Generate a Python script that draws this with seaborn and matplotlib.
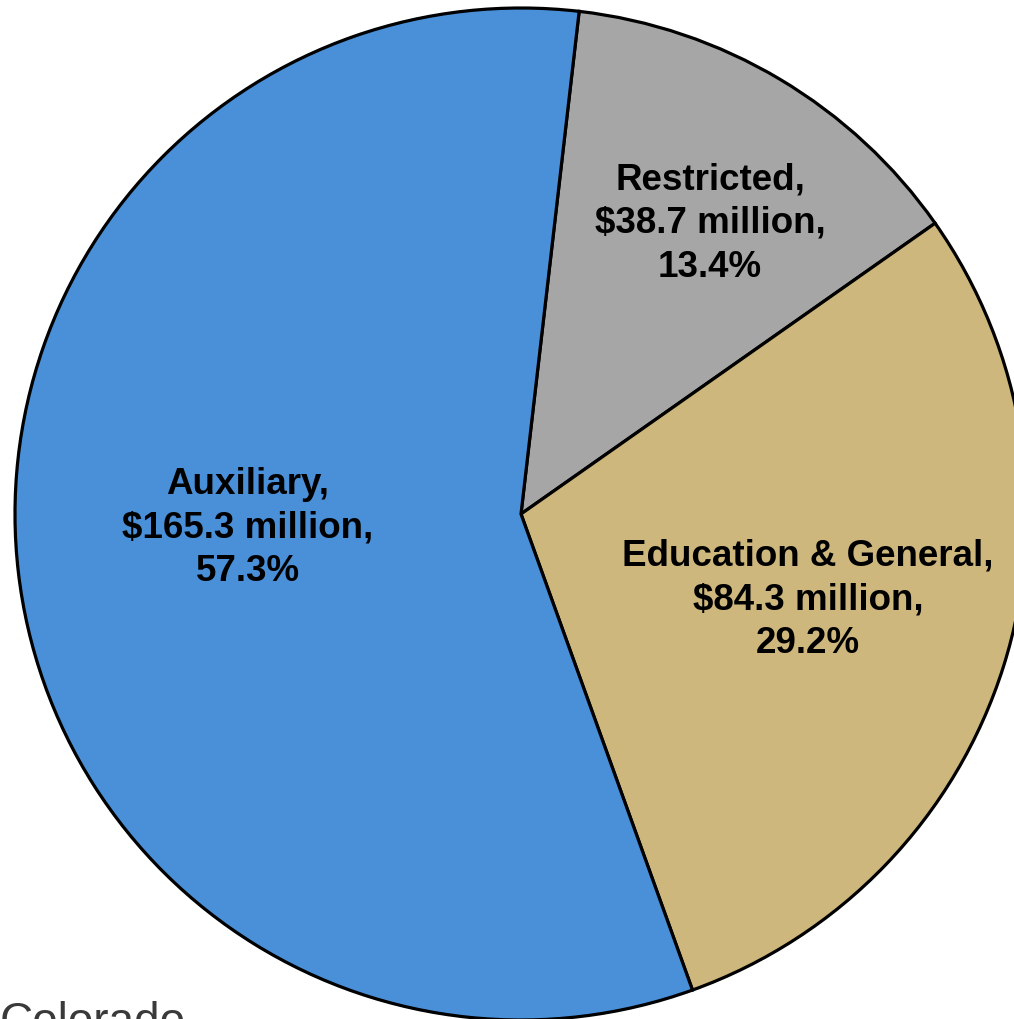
import matplotlib
matplotlib.use("Agg")
import matplotlib.pyplot as plt
import seaborn as sns
import numpy as np

categories = ["Restricted", "Education & General", "Auxiliary"]
amounts = [38.7, 84.3, 165.3]
percents = [13.4, 29.2, 57.3]
colors = ["#A6A6A6", "#CEB77C", "#4A90D9"]
label_dist = [0.69, 0.59, 0.54]
label_angle_shift = [-2.0, 1.5, -4.3]

sns.set_theme(style="white")
plt.rcParams['font.family'] = ['Liberation Sans', 'DejaVu Sans']

fig = plt.figure(figsize=(10.14, 10.19), dpi=100)
W, H = 1014, 1019
cx, cy, R = 521, 514, 506
ax = fig.add_axes([(cx - R) / W, (H - cy - R) / H, 2 * R / W, 2 * R / H])
ax.set_xlim(-1, 1)
ax.set_ylim(-1, 1)
ax.set_aspect("equal")
ax.axis("off")

wedges, _ = ax.pie(amounts, colors=colors, startangle=83.4, counterclock=False,
                   radius=1.0, wedgeprops=dict(edgecolor="black", linewidth=2.3),
                   frame=False)
for w in wedges:
    w.set_clip_on(False)
ax.set_xlim(-1, 1)
ax.set_ylim(-1, 1)

for w, cat, amt, pct, d, s in zip(wedges, categories, amounts, percents, label_dist, label_angle_shift):
    ang = np.deg2rad((w.theta1 + w.theta2) / 2 + s)
    ax.text(d * np.cos(ang), d * np.sin(ang) - 0.006,
            f"{cat},\n\\${amt:.1f} million,\n{pct:.1f}%",
            ha="center", va="center", fontsize=26.5, fontweight="bold",
            color="black", linespacing=1.33)

fig.text(0.0, 0.018, "Colorado", ha="left", va="top", fontsize=33,
         color="#3a3a3a", fontweight="light")

fig.savefig("out.png", dpi=100)
